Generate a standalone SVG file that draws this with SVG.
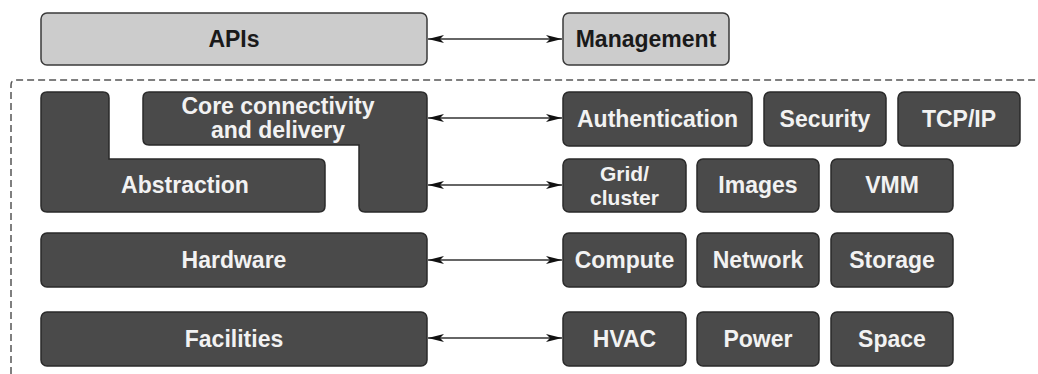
<svg xmlns="http://www.w3.org/2000/svg" width="1038" height="374" viewBox="0 0 1038 374">
<style>
.light{fill:#cccccc;stroke:#3a3a3a;stroke-width:1.5}
.dark{fill:#4a4a4a;stroke:#2a2a2a;stroke-width:1.5}
.tl{font-family:"Liberation Sans",Arial,sans-serif;font-weight:bold;font-size:23px;fill:#1a1a1a;text-anchor:middle}
.td{font-family:"Liberation Sans",Arial,sans-serif;font-weight:bold;font-size:23px;fill:#f2f2f2;text-anchor:middle}
.sm{font-size:21px}
.conn{stroke:#333;stroke-width:1.5;fill:none;marker-start:url(#ah);marker-end:url(#ah)}
</style>
<defs>
<marker id="ah" viewBox="0 0 16 8" refX="16" refY="4" markerWidth="16" markerHeight="8" markerUnits="userSpaceOnUse" orient="auto-start-reverse">
<path d="M0,0 L16,4 L0,8 L4,4 Z" fill="#111"/>
</marker>
</defs>
<path d="M11,374 L11,85 Q11,80 16,80 L1038,80" fill="none" stroke="#555" stroke-width="1.5" stroke-dasharray="7,4"/>
<g id="apis"><rect class="light" x="41" y="13" width="386" height="52" rx="6"/><text class="tl" x="234" y="47">APIs</text></g>
<g id="management"><rect class="light" x="563" y="13" width="166" height="52" rx="6"/><text class="tl" x="646" y="47">Management</text></g>
<g id="abstraction"><path class="dark" d="M47,92 L103,92 Q109,92 109,98 L109,159 L319,159 Q325,159 325,165 L325,206 Q325,212 319,212 L47,212 Q41,212 41,206 L41,98 Q41,92 47,92 Z"/><text class="td" x="185" y="193">Abstraction</text></g>
<g id="core"><path class="dark" d="M149,92 L421,92 Q427,92 427,98 L427,206 Q427,212 421,212 L365,212 Q359,212 359,206 L359,145 L149,145 Q143,145 143,139 L143,98 Q143,92 149,92 Z"/><text class="td" x="278" y="114">Core connectivity</text><text class="td" x="278" y="138">and delivery</text></g>
<g id="hardware"><rect class="dark" x="41" y="233" width="386" height="54" rx="6"/><text class="td" x="234" y="268">Hardware</text></g>
<g id="facilities"><rect class="dark" x="41" y="312" width="386" height="54" rx="6"/><text class="td" x="234" y="347">Facilities</text></g>
<g id="authentication"><rect class="dark" x="563" y="92" width="189" height="54" rx="6"/><text class="td" x="657.5" y="127">Authentication</text></g>
<g id="security"><rect class="dark" x="764" y="92" width="122" height="54" rx="6"/><text class="td" x="825" y="127">Security</text></g>
<g id="tcpip"><rect class="dark" x="898" y="92" width="122" height="54" rx="6"/><text class="td" x="959" y="127">TCP/IP</text></g>
<g id="grid"><rect class="dark" x="563" y="159" width="123" height="53" rx="6"/><text class="td sm" x="624.5" y="181">Grid/</text><text class="td sm" x="624.5" y="204.5">cluster</text></g>
<g id="images"><rect class="dark" x="697" y="159" width="122" height="53" rx="6"/><text class="td" x="758" y="193">Images</text></g>
<g id="vmm"><rect class="dark" x="831" y="159" width="122" height="53" rx="6"/><text class="td" x="892" y="193">VMM</text></g>
<g id="compute"><rect class="dark" x="563" y="233" width="123" height="54" rx="6"/><text class="td" x="624.5" y="268">Compute</text></g>
<g id="network"><rect class="dark" x="697" y="233" width="122" height="54" rx="6"/><text class="td" x="758" y="268">Network</text></g>
<g id="storage"><rect class="dark" x="831" y="233" width="122" height="54" rx="6"/><text class="td" x="892" y="268">Storage</text></g>
<g id="hvac"><rect class="dark" x="563" y="312" width="123" height="54" rx="6"/><text class="td" x="624.5" y="347">HVAC</text></g>
<g id="power"><rect class="dark" x="697" y="312" width="122" height="54" rx="6"/><text class="td" x="758" y="347">Power</text></g>
<g id="space"><rect class="dark" x="831" y="312" width="122" height="54" rx="6"/><text class="td" x="892" y="347">Space</text></g>
<g id="connectors">
<line class="conn" x1="428" y1="39" x2="562" y2="39"/>
<line class="conn" x1="428" y1="118" x2="562" y2="118"/>
<line class="conn" x1="428" y1="185" x2="562" y2="185"/>
<line class="conn" x1="428" y1="260" x2="562" y2="260"/>
<line class="conn" x1="428" y1="338" x2="562" y2="338"/>
</g>
</svg>
